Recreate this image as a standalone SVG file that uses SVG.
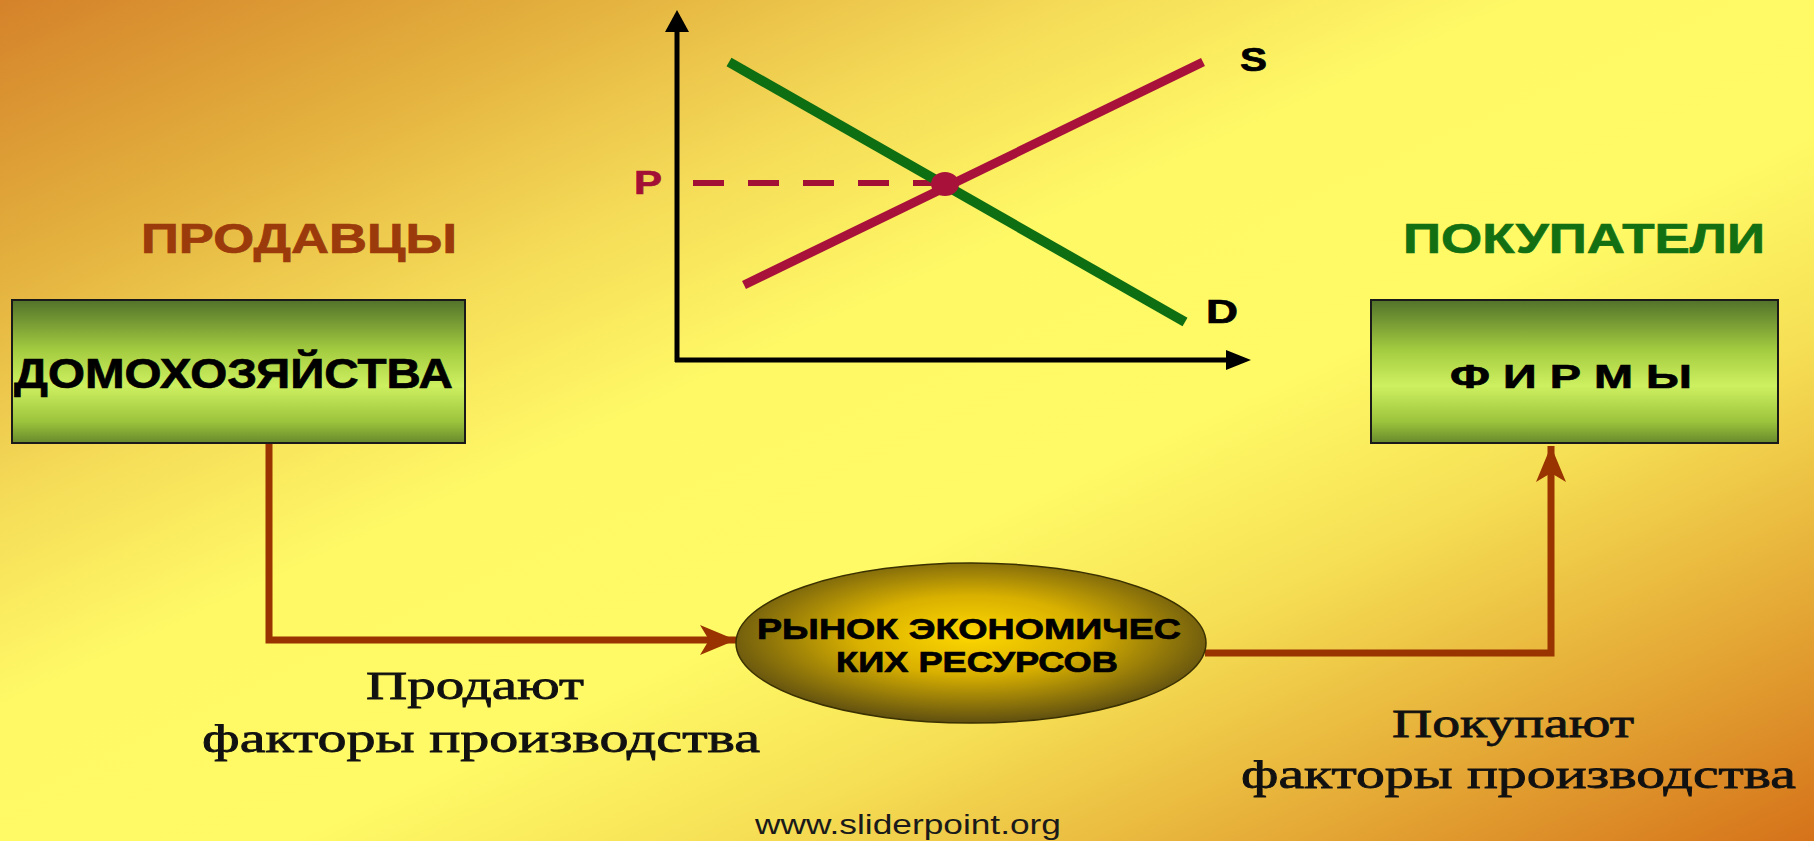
<svg xmlns="http://www.w3.org/2000/svg" width="1814" height="841" viewBox="0 0 1814 841">
  <defs>
    <linearGradient id="bg" x1="0" y1="0" x2="1" y2="1">
      <stop offset="0" stop-color="#d5822a"/>
      <stop offset="0.15" stop-color="#e2ad3c"/>
      <stop offset="0.3" stop-color="#f5dc58"/>
      <stop offset="0.42" stop-color="#fff966"/>
      <stop offset="0.58" stop-color="#fffa66"/>
      <stop offset="0.7" stop-color="#f6e055"/>
      <stop offset="0.84" stop-color="#e6ae38"/>
      <stop offset="1" stop-color="#d5721a"/>
    </linearGradient>
    <linearGradient id="boxfill" x1="0" y1="0" x2="0" y2="1">
      <stop offset="0" stop-color="#52722a"/>
      <stop offset="0.35" stop-color="#a4cc40"/>
      <stop offset="0.6" stop-color="#cdf060"/>
      <stop offset="0.85" stop-color="#9cc43c"/>
      <stop offset="1" stop-color="#68892c"/>
    </linearGradient>
    <radialGradient id="ellfill" cx="0.5" cy="0.45" r="0.55">
      <stop offset="0" stop-color="#ffd800"/>
      <stop offset="0.45" stop-color="#d8b000"/>
      <stop offset="1" stop-color="#5f4f10"/>
    </radialGradient>
    <marker id="brownArrow" viewBox="0 0 36 30" refX="36" refY="15" markerWidth="36" markerHeight="30" markerUnits="userSpaceOnUse" orient="auto">
      <path d="M0,0 L36,15 L0,30 L9,15 Z" fill="#993300"/>
    </marker>
    <style>
      .sans { font-family: "Liberation Sans", Arial, sans-serif; font-weight: bold; stroke-width: 0.7; }
      .serif { font-family: "Liberation Serif", "Times New Roman", serif; font-size: 41px; fill: #111; stroke: #111; stroke-width: 0.8; }
      .box { fill: url(#boxfill); stroke: #1a1a1a; stroke-width: 2; }
      .conn { fill: none; stroke: #993300; stroke-width: 7; }
      .axis { stroke: #000; stroke-width: 5; fill: none; }
    </style>
  </defs>

  <rect x="0" y="0" width="1814" height="841" fill="url(#bg)"/>

  <g id="chart">
    <line class="axis" x1="677" y1="28" x2="677" y2="362"/>
    <line class="axis" x1="675" y1="360" x2="1228" y2="360"/>
    <path d="M677,10 L689,32 L665,32 Z" fill="#000"/>
    <path d="M1251,360 L1226,350 L1226,370 Z" fill="#000"/>
    <line x1="693" y1="183" x2="935" y2="183" stroke="#a31035" stroke-width="6" stroke-dasharray="31 24"/>
    <line x1="729" y1="62" x2="1185" y2="322" stroke="#0d6e12" stroke-width="10"/>
    <line x1="744" y1="285" x2="1203" y2="62" stroke="#a8123a" stroke-width="9"/>
    <ellipse cx="945" cy="184" rx="14" ry="12" fill="#a8123a"/>
    <text class="sans" x="634" y="194" font-size="33" fill="#a31035" stroke="#a31035" textLength="28" lengthAdjust="spacingAndGlyphs">P</text>
    <text class="sans" x="1240" y="71" font-size="33" fill="#000" stroke="#000" textLength="27" lengthAdjust="spacingAndGlyphs">S</text>
    <text class="sans" x="1206" y="323" font-size="33" fill="#000" stroke="#000" textLength="32" lengthAdjust="spacingAndGlyphs">D</text>
  </g>

  <g id="label-sellers">
    <text class="sans" x="141" y="253" font-size="42" fill="#9b3a0b" stroke="#9b3a0b" textLength="316" lengthAdjust="spacingAndGlyphs">ПРОДАВЦЫ</text>
  </g>
  <g id="label-buyers">
    <text class="sans" x="1403" y="253" font-size="42" fill="#127012" stroke="#127012" textLength="362" lengthAdjust="spacingAndGlyphs">ПОКУПАТЕЛИ</text>
  </g>

  <g id="connectors">
    <path class="conn" d="M269,443 V640 H736" marker-end="url(#brownArrow)"/>
    <path class="conn" d="M1205,653 H1551 V446" marker-end="url(#brownArrow)"/>
  </g>

  <g id="node-households">
    <rect class="box" x="12" y="300" width="453" height="143"/>
    <text class="sans" x="14" y="388" font-size="42" fill="#000" stroke="#000" textLength="439" lengthAdjust="spacingAndGlyphs">ДОМОХОЗЯЙСТВА</text>
  </g>

  <g id="node-firms">
    <rect class="box" x="1371" y="300" width="407" height="143"/>
    <text class="sans" x="1450" y="388" font-size="33" fill="#000" stroke="#000" textLength="242" lengthAdjust="spacingAndGlyphs">Ф И Р М Ы</text>
  </g>

  <g id="node-market">
    <ellipse cx="971" cy="643" rx="235" ry="80" fill="url(#ellfill)" stroke="#3a3000" stroke-width="1.5"/>
    <text class="sans" x="757" y="639" font-size="29" fill="#000" stroke="#000" textLength="424" lengthAdjust="spacingAndGlyphs">РЫНОК ЭКОНОМИЧЕС</text>
    <text class="sans" x="836" y="672" font-size="29" fill="#000" stroke="#000" textLength="282" lengthAdjust="spacingAndGlyphs">КИХ РЕСУРСОВ</text>
  </g>

  <g id="label-sell">
    <text class="serif" x="366" y="699" textLength="218" lengthAdjust="spacingAndGlyphs">Продают</text>
    <text class="serif" x="202" y="752" textLength="558" lengthAdjust="spacingAndGlyphs">факторы производства</text>
  </g>
  <g id="label-buy">
    <text class="serif" x="1392" y="737" textLength="242" lengthAdjust="spacingAndGlyphs">Покупают</text>
    <text class="serif" x="1241" y="788" textLength="555" lengthAdjust="spacingAndGlyphs">факторы производства</text>
  </g>

  <text x="755" y="834" font-family="Liberation Sans, Arial, sans-serif" font-size="27" fill="#1a1a1a" textLength="306" lengthAdjust="spacingAndGlyphs">www.sliderpoint.org</text>
</svg>
